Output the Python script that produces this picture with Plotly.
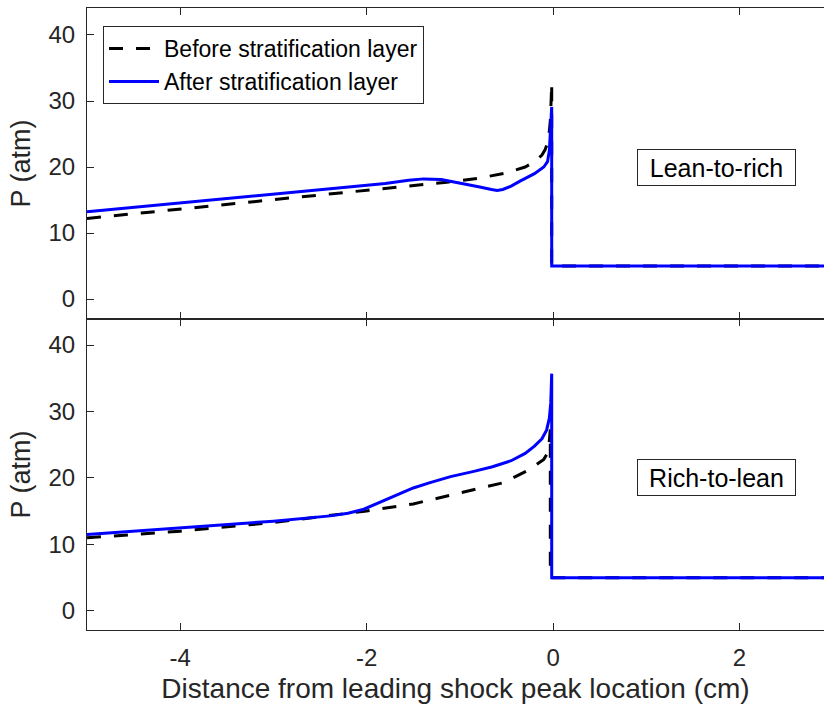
import plotly.graph_objects as go
from plotly.subplots import make_subplots

# Pressure profiles (atm) vs distance from the leading shock peak (cm)

# Lean-to-rich case
lr_before_x = [-5.0, -4.0, -3.0, -2.0, -1.5, -1.14, -0.8, -0.5, -0.3, -0.21, -0.12, -0.086,
               -0.05, -0.03, -0.02, -0.015, -0.015, 0.0, 1.0, 2.906]
lr_before_y = [12.2, 13.6, 15.0, 16.4, 17.1, 17.7, 18.3, 19.1, 20.0, 20.7, 21.8, 22.6,
               24.0, 27.0, 30.5, 32.7, 5.0, 5.0, 5.0, 5.0]

lr_after_x = [-5.0, -4.0, -3.0, -2.32, -1.8, -1.55, -1.39, -1.2, -1.0, -0.8, -0.66, -0.6,
              -0.54, -0.45, -0.35, -0.2, -0.1, -0.06, -0.04, -0.03, -0.02, -0.015, -0.015,
              0.0, 1.0, 2.906]
lr_after_y = [13.2, 14.55, 15.85, 16.8, 17.5, 18.0, 18.2, 18.1, 17.6, 17.0, 16.6, 16.45,
              16.6, 17.1, 17.9, 19.0, 20.0, 20.8, 22.5, 25.0, 27.5, 29.1, 5.0,
              5.0, 5.0, 5.0]

# Rich-to-lean case
rl_before_x = [-5.0, -4.0, -3.0, -2.5, -2.0, -1.5, -1.0, -0.53, -0.25, -0.1, -0.05,
               -0.035, -0.03, -0.03, 0.0, 1.0, 2.906]
rl_before_y = [11.0, 12.0, 13.3, 14.2, 15.05, 16.1, 17.7, 19.3, 21.3, 22.8, 24.0,
               25.8, 27.3, 5.0, 5.0, 5.0, 5.0]

rl_after_x = [-5.0, -4.0, -3.0, -2.39, -2.2, -2.03, -1.85, -1.68, -1.5, -1.32, -1.1, -0.85,
              -0.65, -0.45, -0.3, -0.2, -0.12, -0.07, -0.04, -0.025, -0.018, -0.015, -0.015,
              0.0, 1.0, 2.906]
rl_after_y = [11.5, 12.5, 13.5, 14.3, 14.7, 15.3, 16.4, 17.5, 18.5, 19.3, 20.2, 21.0,
              21.7, 22.6, 23.7, 24.8, 25.9, 27.2, 29.0, 31.3, 33.5, 35.7, 5.0,
              5.0, 5.0, 5.0]

series_names = ["Before stratification layer", "After stratification layer"]
panel_labels = ["Lean-to-rich", "Rich-to-lean"]
x_ticks = [-4, -2, 0, 2]
y_ticks = [0, 10, 20, 30, 40]

FONT = "Liberation Sans, Arial, Helvetica, sans-serif"
AXIS_COLOR = "#262626"

fig = make_subplots(rows=2, cols=1, shared_xaxes=True, vertical_spacing=0)

panels = [
    (1, lr_before_x, lr_before_y, lr_after_x, lr_after_y),
    (2, rl_before_x, rl_before_y, rl_after_x, rl_after_y),
]
for row, bx, by, ax_, ay in panels:
    fig.add_trace(go.Scatter(
        x=bx, y=by, mode="lines", name=series_names[0],
        line=dict(color="black", width=3, dash="14px,13px"),
        showlegend=(row == 1)), row=row, col=1)
    fig.add_trace(go.Scatter(
        x=ax_, y=ay, mode="lines", name=series_names[1],
        line=dict(color="#0000ff", width=3),
        showlegend=(row == 1)), row=row, col=1)

# plain hyphen for negative tick labels
x_ticktext = [str(v) for v in x_ticks]

common_x = dict(range=[-5.0, 2.906], tickvals=x_ticks, ticktext=x_ticktext,
                ticks="inside", ticklen=7,
                tickcolor=AXIS_COLOR, showline=True, linecolor=AXIS_COLOR, linewidth=1,
                mirror="ticks", showgrid=False, zeroline=False, ticklabelstandoff=6,
                tickfont=dict(family=FONT, size=24, color=AXIS_COLOR))
fig.update_xaxes(**common_x)
fig.update_xaxes(title=dict(text="Distance from leading shock peak location (cm)",
                            font=dict(family=FONT, size=28, color=AXIS_COLOR),
                            standoff=8), row=2, col=1)

common_y = dict(tickvals=y_ticks, ticks="inside", ticklen=7, tickcolor=AXIS_COLOR,
                showline=True, linecolor=AXIS_COLOR, linewidth=1, mirror=False,
                showgrid=False, zeroline=False, ticklabelstandoff=6,
                tickfont=dict(family=FONT, size=24, color=AXIS_COLOR),
                title=dict(text="P (atm)", font=dict(family=FONT, size=27, color=AXIS_COLOR),
                           standoff=10))
fig.update_yaxes(range=[-3.03, 44.09], row=1, col=1, **common_y)
fig.update_yaxes(range=[-2.87, 43.92], row=2, col=1, **common_y)

for i, label in enumerate(panel_labels):
    fig.add_annotation(
        x=1.75, y=20, xref="x" if i == 0 else "x2", yref="y" if i == 0 else "y2",
        text=label, showarrow=False, bgcolor="white", bordercolor=AXIS_COLOR,
        borderwidth=1, borderpad=3, width=151, height=29,
        font=dict(family=FONT, size=25, color="black"))

fig.update_layout(
    width=824, height=708,
    margin=dict(l=87, r=0, t=8, b=78),
    paper_bgcolor="white", plot_bgcolor="white",
    legend=dict(x=0.0217, y=0.971, xanchor="left", yanchor="top",
                bgcolor="white", bordercolor=AXIS_COLOR, borderwidth=1,
                font=dict(family=FONT, size=23, color="black"),
                tracegroupgap=0, itemwidth=50),
    font=dict(family=FONT),
)

fig.write_html("out.html")
